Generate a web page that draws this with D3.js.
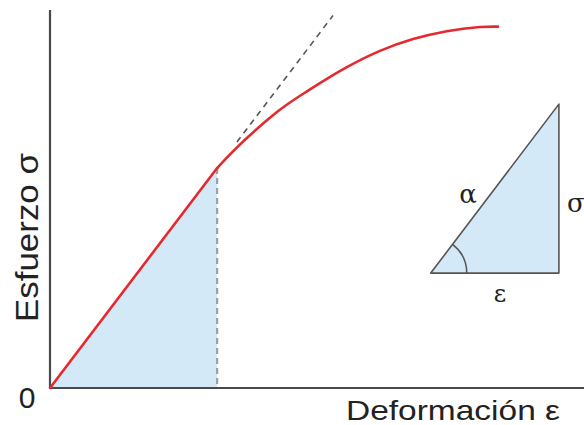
<!DOCTYPE html>
<html>
<head>
<meta charset="utf-8">
<script src="https://cdn.jsdelivr.net/npm/d3@7"></script>
<style>
  html, body { margin: 0; padding: 0; background: #fff; }
  svg { display: block; }
</style>
</head>
<body>
<svg id="chart" width="584" height="425"></svg>
<script>
// stress-strain curve (arbitrary units 0..100)
const strain = [0, 31.3, 42.5, 48.7, 55.6, 61.8, 68.0, 74.3, 80.5, 83.9];
const stress = [0, 58.2, 73.0, 79.0, 84.9, 89.2, 92.3, 94.4, 95.5, 95.6];
const elasticIndex = 1;            // end of the linear part
const tangentRange = [35, 53];     // dashed extension of the linear part
// inset triangle (same units)
const triStrain = [71.3, 95.3];
const triStress = [30.4, 75.1];
const labels = { origin: "0", yTitle: "Esfuerzo σ", xTitle: "Deformación ε", angle: "α", rise: "σ", run: "ε" };

const svg = d3.select("#chart");
const x = d3.scaleLinear().domain([0, 100]).range([50, 584]);
const y = d3.scaleLinear().domain([0, 100]).range([388, 10]);

const pts = strain.map((s, i) => [s, stress[i]]);
const E = stress[elasticIndex] / strain[elasticIndex];
const red = "#e42a2e";

// blue area under the elastic part
svg.append("path")
    .attr("d", d3.area().x(d => x(d[0])).y0(y(0)).y1(d => y(d[1]))(pts.slice(0, elasticIndex + 1)))
    .attr("fill", "#d4e9f7");

// vertical dashed line at elastic limit
svg.append("line")
    .attr("x1", x(strain[elasticIndex])).attr("x2", x(strain[elasticIndex]))
    .attr("y1", y(stress[elasticIndex])).attr("y2", y(0))
    .attr("stroke", "#9a9fa3").attr("stroke-width", 2.2)
    .attr("stroke-dasharray", "6,4");

// dashed tangent
svg.append("line")
    .attr("x1", x(tangentRange[0])).attr("y1", y(E * tangentRange[0]))
    .attr("x2", x(tangentRange[1])).attr("y2", y(E * tangentRange[1]))
    .attr("stroke", "#555").attr("stroke-width", 1.6)
    .attr("stroke-dasharray", "6,5");

// axes
svg.append("line")
    .attr("x1", x(0)).attr("x2", x(0)).attr("y1", y(100)).attr("y2", y(0))
    .attr("stroke", "#4a4a4a").attr("stroke-width", 2.2);
svg.append("line")
    .attr("x1", x(0) - 1).attr("x2", x(100)).attr("y1", y(0)).attr("y2", y(0))
    .attr("stroke", "#4a4a4a").attr("stroke-width", 2.2);

// red curve: straight elastic part + smooth plastic part
const line = d3.line().x(d => x(d[0])).y(d => y(d[1]));
svg.append("path")
    .attr("d", line(pts.slice(0, elasticIndex + 1)))
    .attr("fill", "none").attr("stroke", red).attr("stroke-width", 2.6)
    .attr("stroke-linecap", "round");

// plastic part starts with the elastic slope so the join is smooth
const plastic = pts.slice(elasticIndex);
const lead = [strain[elasticIndex] - 6, stress[elasticIndex] - 6 * E];
const full = line.curve(d3.curveCatmullRom.alpha(0.5))([lead, ...plastic]);
const segs = full.split("C");
svg.append("path")
    .attr("d", "M" + x(plastic[0][0]) + "," + y(plastic[0][1]) + segs.slice(2).map(s => "C" + s).join(""))
    .attr("fill", "none").attr("stroke", red).attr("stroke-width", 2.6)
    .attr("stroke-linecap", "round");

// inset triangle
const tri = [[triStrain[0], triStress[0]], [triStrain[1], triStress[0]], [triStrain[1], triStress[1]]];
svg.append("path")
    .attr("d", d3.line().x(d => x(d[0])).y(d => y(d[1]))(tri) + "Z")
    .attr("fill", "#d4e9f7").attr("stroke", "#555").attr("stroke-width", 1.6)
    .attr("stroke-linejoin", "round");

const cx = x(triStrain[0]), cy = y(triStress[0]);
const ang = Math.atan2(y(triStress[0]) - y(triStress[1]), x(triStrain[1]) - x(triStrain[0]));
svg.append("path")
    .attr("d", d3.arc().innerRadius(36).outerRadius(36)
        .startAngle(Math.PI / 2 - ang).endAngle(Math.PI / 2)())
    .attr("transform", `translate(${cx},${cy})`)
    .attr("fill", "none").attr("stroke", "#555").attr("stroke-width", 1.5);

const serif = "'DejaVu Serif', 'Liberation Serif', serif";
svg.append("text").text(labels.angle)
    .attr("x", 468).attr("y", 203).attr("text-anchor", "middle")
    .attr("font-family", serif).attr("font-size", 26).attr("fill", "#222");
svg.append("text").text(labels.rise)
    .attr("x", 567).attr("y", 212)
    .attr("font-family", serif).attr("font-size", 26).attr("fill", "#222");
svg.append("text").text(labels.run)
    .attr("x", 500).attr("y", 302).attr("text-anchor", "middle")
    .attr("font-family", serif).attr("font-size", 24).attr("fill", "#222");

// axis labels
const sans = "'Liberation Sans', Arial, sans-serif";
svg.append("text").text(labels.origin)
    .attr("x", 27).attr("y", 408).attr("text-anchor", "middle")
    .attr("font-family", sans).attr("font-size", 30).attr("fill", "#222");
svg.append("text").text(labels.xTitle)
    .attr("x", 346).attr("y", 420)
    .attr("textLength", 214).attr("lengthAdjust", "spacingAndGlyphs")
    .attr("font-family", sans).attr("font-size", 28).attr("fill", "#222");
svg.append("text").text(labels.yTitle)
    .attr("transform", "translate(38,322) rotate(-90)")
    .attr("textLength", 169).attr("lengthAdjust", "spacingAndGlyphs")
    .attr("font-family", sans).attr("font-size", 31).attr("fill", "#222");
</script>
</body>
</html>
